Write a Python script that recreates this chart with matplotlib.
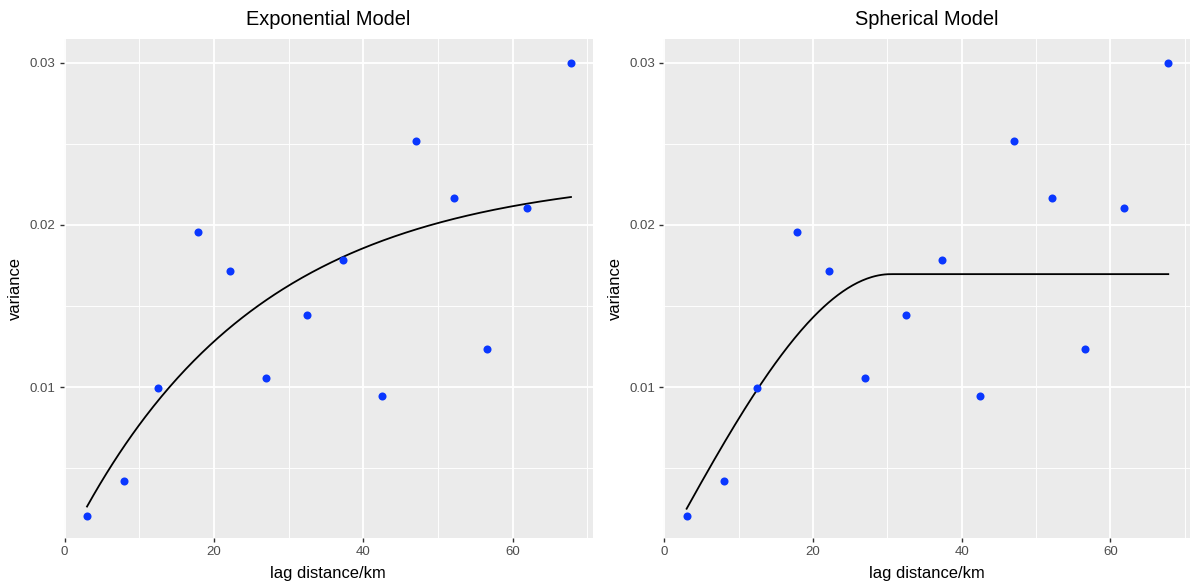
import numpy as np
import matplotlib
matplotlib.use("Agg")
import matplotlib.pyplot as plt

plt.rcParams["font.family"] = ["Liberation Sans", "DejaVu Sans"]

# empirical semivariogram (lag bins)
lag_km = [3.0, 8.0, 12.5, 17.8, 22.2, 27.0, 32.5, 37.3, 42.5, 47.1, 52.2, 56.6, 61.9, 67.8]
gamma = [0.00202, 0.00422, 0.00994, 0.01955, 0.01713, 0.01056, 0.01442,
         0.01784, 0.00942, 0.02516, 0.02164, 0.01237, 0.02101, 0.0300]

# fitted model parameters
exp_nugget, exp_psill, exp_range = 0.0, 0.02326, 25.0
sph_nugget, sph_psill, sph_range = 0.0, 0.01696, 30.5

titles = ["Exponential Model", "Spherical Model"]
x_ticks = [0, 20, 40, 60]
y_ticks = [0.01, 0.02, 0.03]
y_tick_labels = ["0.01", "0.02", "0.03"]


def exp_model(h):
    return exp_nugget + exp_psill * (1 - np.exp(-h / exp_range))


def sph_model(h):
    r = np.minimum(h / sph_range, 1.0)
    return sph_nugget + sph_psill * (1.5 * r - 0.5 * r ** 3)


W, H = 1192, 581
fig = plt.figure(figsize=(W / 100, H / 100), dpi=100)
axes = [
    fig.add_axes([63.5 / W, 43 / H, 529.5 / W, 498.7 / H]),
    fig.add_axes([663.2 / W, 43 / H, 527 / W, 498.7 / H]),
]

h = np.linspace(min(lag_km), max(lag_km), 300)
models = [exp_model, sph_model]

for ax, title, model in zip(axes, titles, models):
    ax.set_facecolor("#EBEBEB")
    for s in ax.spines.values():
        s.set_visible(False)
    ax.set_xlim(-0.15, 70.75)
    ax.set_ylim(0.00069, 0.03144)
    ax.set_xticks(x_ticks)
    ax.set_xticks([10, 30, 50, 70], minor=True)
    ax.set_yticks(y_ticks)
    ax.set_yticklabels(y_tick_labels)
    ax.set_yticks([0.005, 0.015, 0.025], minor=True)
    ax.grid(which="major", color="white", linewidth=1.3)
    ax.grid(which="minor", color="white", linewidth=0.65)
    ax.set_axisbelow(True)
    ax.tick_params(which="major", length=3.2, width=1.0, color="#333333",
                   labelcolor="#4D4D4D", labelsize=9.5, pad=2.5)
    ax.tick_params(which="minor", length=0)

    ax.plot(h, model(h), color="black", linewidth=1.3, zorder=2)
    ax.plot(lag_km, gamma, "o", color="#0A37FF", markersize=5.8,
            markeredgewidth=0, zorder=3)

    ax.set_title(title, fontsize=14.4, pad=10)
    ax.set_xlabel("lag distance/km", fontsize=11.9, labelpad=6)
    ax.set_ylabel("variance", fontsize=11.9, labelpad=5)

fig.savefig("out.png", dpi=100)
